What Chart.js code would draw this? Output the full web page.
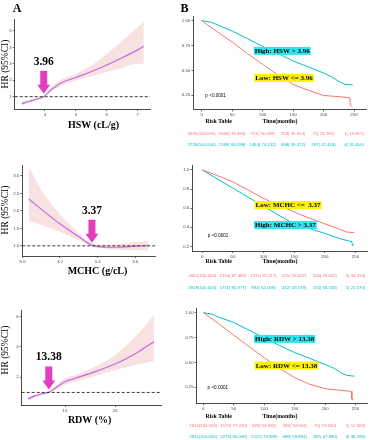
<!DOCTYPE html>
<html><head><meta charset="utf-8">
<script src="https://cdn.jsdelivr.net/npm/chart.js@4.4.1/dist/chart.umd.min.js"></script>
<style>
html,body{margin:0;padding:0;background:#fff;}
#wrap{position:relative;width:370px;height:440px;overflow:hidden;background:#fff;}
canvas{position:absolute;}
.t{position:absolute;white-space:pre;line-height:1;color:#000;}
</style></head><body>
<div id="wrap">
<canvas id="a1" width="185" height="145" style="left:0;top:0;width:185px;height:145px"></canvas>
<canvas id="a2" width="185" height="145" style="left:0;top:145px;width:185px;height:145px"></canvas>
<canvas id="a3" width="185" height="150" style="left:0;top:290px;width:185px;height:150px"></canvas>
<canvas id="b1" width="194" height="145" style="left:176px;top:0;width:194px;height:145px"></canvas>
<canvas id="b2" width="194" height="145" style="left:176px;top:145px;width:194px;height:145px"></canvas>
<canvas id="b3" width="194" height="150" style="left:176px;top:290px;width:194px;height:150px"></canvas>
</div>
<script>
// ---------- DATA ----------
// Panel A: restricted cubic spline HR curves
const hswX  = [3.25, 3.5, 3.75, 3.96, 4.2, 4.5, 5.0, 5.5, 6.0, 6.5, 7.0, 7.2];
const hswHR = [0.57, 0.72, 0.86, 1.00, 1.42, 1.82, 2.17, 2.53, 2.93, 3.37, 3.85, 4.07];
const hswLo = [0.45, 0.63, 0.80, 0.96, 1.30, 1.63, 1.98, 2.25, 2.50, 2.75, 3.00, 3.00];
const hswHi = [0.72, 0.82, 0.93, 1.04, 1.55, 2.00, 2.40, 2.90, 3.60, 4.40, 5.25, 5.55];

const mchcX  = [3.035, 3.1, 3.2, 3.3, 3.37, 3.45, 3.5, 3.6, 3.67];
const mchcHR = [2.34, 2.05, 1.63, 1.26, 1.02, 0.96, 0.96, 0.99, 1.01];
const mchcLo = [1.72, 1.60, 1.40, 1.16, 0.98, 0.91, 0.89, 0.88, 0.87];
const mchcHi = [3.25, 2.60, 1.90, 1.36, 1.07, 1.03, 1.05, 1.10, 1.14];

const rdwX  = [11.3, 12, 13, 13.38, 14, 15, 16, 18, 20, 22, 23.9];
const rdwHR = [0.57, 0.77, 0.95, 1.01, 1.27, 1.71, 1.93, 2.37, 2.88, 3.54, 4.35];
const rdwLo = [0.42, 0.66, 0.90, 0.96, 1.15, 1.50, 1.71, 2.09, 2.48, 2.81, 3.08];
const rdwHi = [0.72, 0.88, 1.00, 1.06, 1.40, 1.93, 2.15, 2.70, 3.45, 4.65, 6.10];

const cutHSW = 3.96, cutMCHC = 3.37, cutRDW = 13.38;

// tick labels
const hswXTicks = [4, 5, 6, 7],          hswYTicks = [1, 2, 3, 4, 5];
const mchcXTicks = [3.0, 3.2, 3.4, 3.6], mchcYTicks = [1.0, 1.5, 2.0, 2.5, 3.0];
const rdwXTicks = [15, 20],              rdwYTicks = [2, 4, 6];
const kmTimeTicks = [0, 50, 100, 150, 200, 250];
const kmYTicksQ = [0.25, 0.50, 0.75, 1.00];
const kmYTicksF = [0.2, 0.4, 0.6, 0.8, 1.0];

// Panel B: Kaplan-Meier curves
const hswLowT  = [0, 25, 50, 75, 100, 125, 150, 175, 200, 225, 243, 244, 247];
const hswLowS  = [1.0, 0.89, 0.785, 0.67, 0.561, 0.455, 0.359, 0.30, 0.248, 0.236, 0.226, 0.15, 0.138];
const hswHighT = [0, 15, 25, 50, 75, 100, 125, 150, 175, 200, 215, 225, 235, 248];
const hswHighS = [1.0, 0.985, 0.96, 0.896, 0.82, 0.741, 0.67, 0.595, 0.535, 0.474, 0.43, 0.39, 0.36, 0.354];

const mchcLowT  = [0, 25, 50, 75, 100, 125, 150, 175, 200, 220, 235, 248];
const mchcLowS  = [1.0, 0.94, 0.875, 0.79, 0.703, 0.63, 0.56, 0.495, 0.436, 0.39, 0.35, 0.343];
const mchcHighT = [0, 25, 50, 75, 100, 125, 150, 175, 200, 225, 240, 244, 245, 248];
const mchcHighS = [1.0, 0.905, 0.81, 0.715, 0.62, 0.525, 0.436, 0.385, 0.336, 0.28, 0.255, 0.25, 0.211, 0.211];

const rdwLowT  = [0, 25, 50, 75, 100, 125, 150, 175, 200, 225, 243, 244, 247];
const rdwLowS  = [1.0, 0.89, 0.774, 0.66, 0.547, 0.44, 0.347, 0.28, 0.236, 0.22, 0.21, 0.13, 0.123];
const rdwHighT = [0, 15, 25, 50, 75, 100, 125, 150, 175, 200, 215, 225, 235, 248];
const rdwHighS = [1.0, 0.985, 0.955, 0.901, 0.825, 0.746, 0.67, 0.599, 0.54, 0.479, 0.44, 0.40, 0.37, 0.362];

// risk tables (number at risk, survival %)
const hswRiskLowN  = [2695, 1646, 721, 259, 75, 1];
const hswRiskLowP  = [100.000, 78.483, 56.099, 35.914, 24.781, 13.807];
const hswRiskHighN = [2728, 2189, 1464, 698, 287, 4];
const hswRiskHighP = [100.000, 89.598, 74.132, 59.472, 47.418, 35.400];
const mchcRiskLowN  = [2805, 2134, 1311, 525, 206, 3];
const mchcRiskLowP  = [100.000, 87.489, 70.317, 56.007, 43.632, 34.314];
const mchcRiskHighN = [2818, 1711, 894, 432, 156, 1];
const mchcRiskHighP = [100.000, 80.977, 62.009, 43.579, 33.556, 21.070];
const rdwRiskLowN  = [2812, 1573, 683, 269, 75, 1];
const rdwRiskLowP  = [100.000, 77.410, 54.682, 34.664, 23.620, 12.303];
const rdwRiskHighN = [2811, 2273, 1522, 688, 287, 4];
const rdwRiskHighP = [100.000, 90.068, 74.588, 59.894, 47.890, 36.198];

// ---------- STYLE ----------
const RED = '#F8766D', TEAL = '#00BFC4', LINE = '#C46AE2', BAND = '#F8E1E1', ARROW = '#E43DBE';
const AX = '#4a4a4a', TICKC = '#4d4d4d';
const SERIF = '"Liberation Serif", "Times New Roman", serif';
const SANS = '"Liberation Sans", Arial, sans-serif';
const YW = 13, XH = 8;   // reserved width/height of axis boxes
const wrap = document.getElementById('wrap');

function pts(xs, ys) { return xs.map((x, i) => ({x: x, y: ys[i]})); }

// area = desired plot rectangle inside canvas [left, top, right, bottom]; W,H canvas size
function padFor(area, W, H) {
  return {left: area[0] - YW, top: area[1], right: W - area[2], bottom: H - area[3] - XH};
}

function axis(min, max, ticks, fmt, isX) {
  return {
    type: 'linear', min: min, max: max,
    afterBuildTicks: s => { s.ticks = ticks.map(v => ({value: v})); },
    afterFit: s => { if (isX) s.height = XH; else s.width = YW; },
    grid: {display: true, drawOnChartArea: false, drawTicks: true, tickLength: 2, color: AX, lineWidth: 0.8},
    border: {display: true, color: AX, width: 1},
    ticks: {font: {family: SANS, size: 4.4}, color: TICKC, padding: 1, maxRotation: 0, autoSkip: false,
            callback: v => fmt(v)}
  };
}

function arrowPlugin(cut, label) {
  return {
    id: 'arrowMark',
    afterDatasetsDraw(chart) {
      const ctx = chart.ctx, xs = chart.scales.x, ys = chart.scales.y, ca = chart.chartArea;
      const y1 = ys.getPixelForValue(1);
      ctx.save();
      ctx.strokeStyle = '#222'; ctx.lineWidth = 0.9; ctx.setLineDash([3, 2]);
      ctx.beginPath(); ctx.moveTo(ca.left, y1); ctx.lineTo(ca.right, y1); ctx.stroke();
      ctx.setLineDash([]);
      const x = xs.getPixelForValue(cut), tip = y1 - 3;
      ctx.fillStyle = ARROW;
      ctx.beginPath();
      ctx.moveTo(x - 3.5, tip - 23); ctx.lineTo(x + 3.5, tip - 23); ctx.lineTo(x + 3.5, tip - 9);
      ctx.lineTo(x + 6.5, tip - 9); ctx.lineTo(x, tip); ctx.lineTo(x - 6.5, tip - 9);
      ctx.lineTo(x - 3.5, tip - 9); ctx.closePath(); ctx.fill();
      ctx.fillStyle = '#000'; ctx.font = 'bold 11.5px ' + SERIF;
      ctx.textAlign = 'center'; ctx.textBaseline = 'middle';
      ctx.fillText(label, x, tip - 32);
      ctx.restore();
    }
  };
}

function rcsChart(id, area, xr, yr, xT, yT, fx, fy, X, HR, LO, HI, cut) {
  const cv = document.getElementById(id);
  return new Chart(cv, {
    type: 'line',
    data: {datasets: [
      {data: pts(X, HR), borderColor: LINE, borderWidth: 1.2, pointRadius: 0, fill: false, cubicInterpolationMode: 'monotone'},
      {data: pts(X, HI), borderWidth: 0, borderColor: 'rgba(0,0,0,0)', pointRadius: 0, fill: '+1', backgroundColor: BAND, cubicInterpolationMode: 'monotone'},
      {data: pts(X, LO), borderWidth: 0, borderColor: 'rgba(0,0,0,0)', pointRadius: 0, fill: false, cubicInterpolationMode: 'monotone'}
    ]},
    options: {
      responsive: false, animation: false, devicePixelRatio: 1,
      layout: {padding: padFor(area, cv.width, cv.height)},
      plugins: {legend: {display: false}, tooltip: {enabled: false}},
      scales: {x: axis(xr[0], xr[1], xT, fx, true), y: axis(yr[0], yr[1], yT, fy, false)}
    },
    plugins: [arrowPlugin(cut, String(cut))]
  });
}

function kmPlugin(cfg) {
  return {
    id: 'kmNotes',
    afterDatasetsDraw(chart) {
      const ctx = chart.ctx, xs = chart.scales.x, ys = chart.scales.y;
      ctx.save();
      ctx.textBaseline = 'middle'; ctx.textAlign = 'left';
      ctx.font = 'bold 7px ' + SERIF;
      cfg.boxes.forEach(b => {
        const x = xs.getPixelForValue(b.t), y = ys.getPixelForValue(b.s);
        const w = ctx.measureText(b.text).width;
        ctx.fillStyle = b.bg; ctx.fillRect(x - 1, y - 4, w + 2, 8);
        ctx.fillStyle = '#000'; ctx.fillText(b.text, x, y + 0.3);
      });
      ctx.font = '4.6px ' + SANS; ctx.fillStyle = '#000';
      ctx.fillText('p <0.0001', xs.getPixelForValue(cfg.p[0]), ys.getPixelForValue(cfg.p[1]));
      ctx.restore();
    }
  };
}

function kmChart(id, area, xr, yr, yT, fy, lowT, lowS, highT, highS, notes) {
  const cv = document.getElementById(id);
  return new Chart(cv, {
    type: 'line',
    data: {datasets: [
      {data: pts(lowT, lowS), borderColor: RED, borderWidth: 1, pointRadius: 0, fill: false, tension: 0},
      {data: pts(highT, highS), borderColor: TEAL, borderWidth: 1, pointRadius: 0, fill: false, tension: 0}
    ]},
    options: {
      responsive: false, animation: false, devicePixelRatio: 1,
      layout: {padding: padFor(area, cv.width, cv.height)},
      plugins: {legend: {display: false}, tooltip: {enabled: false}},
      scales: {x: axis(xr[0], xr[1], kmTimeTicks, v => String(v), true), y: axis(yr[0], yr[1], yT, fy, false)}
    },
    plugins: [kmPlugin(notes)]
  });
}

const f0 = v => String(v), f1 = v => v.toFixed(1), f2 = v => v.toFixed(2);

// ---------- PANEL A ----------
rcsChart('a1', [14.7, 19, 150, 109], [3.02, 7.40], [0.25, 5.73],
  hswXTicks, hswYTicks, f0, f0, hswX, hswHR, hswLo, hswHi, cutHSW);
rcsChart('a2', [22.3, 20, 155, 111], [3.0, 3.705], [0.71, 3.31],
  mchcXTicks, mchcYTicks, f1, f1, mchcX, mchcHR, mchcLo, mchcHi, cutMCHC);
rcsChart('a3', [21.7, 20, 161.7, 115], [10.67, 24.67], [0.17, 6.44],
  rdwXTicks, rdwYTicks, f0, f0, rdwX, rdwHR, rdwLo, rdwHi, cutRDW);

// ---------- PANEL B ----------
const k1 = kmChart('b1', [17.3, 16, 190.7, 109.5], [-13.8, 270.8], [0.107, 1.047], kmYTicksQ, f2,
  hswLowT, hswLowS, hswHighT, hswHighS,
  {boxes: [{text: 'High: HSW > 3.96', t: 87, s: 0.696, bg: '#2FE6EE'},
           {text: 'Low: HSW <= 3.96', t: 88, s: 0.425, bg: '#FFF200'}], p: [6, 0.25]});
const k2 = kmChart('b2', [16.3, 20.7, 191.7, 106], [-16.3, 270], [0.151, 1.045], kmYTicksF, f1,
  mchcLowT, mchcLowS, mchcHighT, mchcHighS,
  {boxes: [{text: 'Low: MCHC <=  3.37', t: 87, s: 0.633, bg: '#FFF200'},
           {text: 'High: MCHC > 3.37', t: 86, s: 0.423, bg: '#2FE6EE'}], p: [9, 0.31]});
const k3 = kmChart('b3', [20.7, 18.3, 191.7, 113.3], [-10.9, 270], [0.089, 1.044], kmYTicksQ, f2,
  rdwLowT, rdwLowS, rdwHighT, rdwHighS,
  {boxes: [{text: 'High: RDW > 13.38', t: 85, s: 0.736, bg: '#2FE6EE'},
           {text: 'Low: RDW <= 13.38', t: 86, s: 0.468, bg: '#FFF200'}], p: [7, 0.245]});

// ---------- TEXT ----------
function addText(str, cx, cy, font, color, rot) {
  const d = document.createElement('div');
  d.className = 't'; d.textContent = str;
  d.style.left = cx + 'px'; d.style.top = cy + 'px';
  d.style.font = font; d.style.color = color || '#000';
  d.style.transform = 'translate(-50%,-50%)' + (rot ? ' rotate(-90deg)' : '');
  wrap.appendChild(d);
}
addText('A', 17, 7.5, 'bold 12px ' + SERIF);
addText('B', 184.5, 7.5, 'bold 12px ' + SERIF);
[64, 209.5, 350].forEach(cy => addText('HR (95%CI)', 4.5, cy, '9.5px ' + SERIF, '#000', true));
addText('HSW (cL/g)', 93.5, 124, 'bold 10px ' + SERIF);
addText('MCHC (g/cL)', 97.5, 270, 'bold 10px ' + SERIF);
addText('RDW (%)', 89.6, 418.5, 'bold 10px ' + SERIF);

function riskTable(chart, canvasLeft, titleY, rowY, lowN, lowP, highN, highP) {
  addText('Risk Table', 218.7, titleY, 'bold 5.8px ' + SERIF);
  addText('Time(months)', 280, titleY, 'bold 5.8px ' + SERIF);
  const xs = chart.scales.x;
  const fmt = (n, p) => n + '(' + p.toFixed(3).padStart(7, ' ') + ')';
  kmTimeTicks.forEach((t, i) => {
    const cx = canvasLeft + xs.getPixelForValue(t);
    addText(fmt(lowN[i], lowP[i]), cx, rowY[0], '4.3px ' + SANS, RED);
    addText(fmt(highN[i], highP[i]), cx, rowY[1], '4.3px ' + SANS, TEAL);
  });
}
riskTable(k1, 176, 121, [132.5, 143.5], hswRiskLowN, hswRiskLowP, hswRiskHighN, hswRiskHighP);
riskTable(k2, 176, 260.7, [275, 286.7], mchcRiskLowN, mchcRiskLowP, mchcRiskHighN, mchcRiskHighP);
riskTable(k3, 176, 416, [425.3, 436], rdwRiskLowN, rdwRiskLowP, rdwRiskHighN, rdwRiskHighP);
</script>
</body></html>
